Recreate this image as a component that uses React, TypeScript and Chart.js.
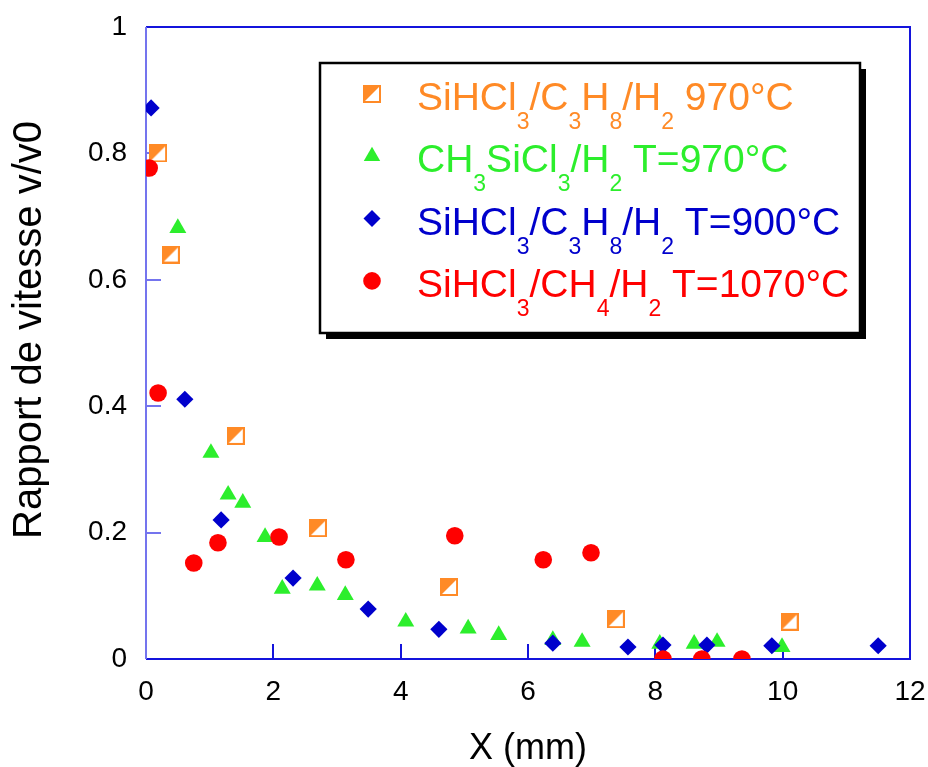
import React, { useEffect, useRef } from "react";
import { Chart, registerables } from "chart.js";

Chart.register(...registerables);

// ---- data ----
const xTickValues = [0, 2, 4, 6, 8, 10, 12];
const yTickLabels = ["0", "0.2", "0.4", "0.6", "0.8", "1"];

const orangeX = [0.19, 0.39, 1.41, 2.7, 4.76, 7.38, 10.11];
const orangeY = [0.8, 0.64, 0.353, 0.207, 0.114, 0.063, 0.059];

const greenX = [0.5, 1.02, 1.29, 1.52, 1.87, 2.14, 2.69, 3.13, 4.08, 5.06, 5.54, 6.39, 6.85, 8.07, 8.61, 8.97, 9.99];
const greenY = [0.682, 0.326, 0.26, 0.247, 0.193, 0.111, 0.116, 0.101, 0.059, 0.048, 0.038, 0.03, 0.027, 0.024, 0.024, 0.027, 0.019];

const blueX = [0.08, 0.61, 1.18, 2.31, 3.49, 4.6, 6.39, 7.57, 8.12, 8.81, 9.83, 11.5];
const blueY = [0.872, 0.411, 0.22, 0.128, 0.079, 0.047, 0.025, 0.019, 0.022, 0.022, 0.021, 0.021];

const redX = [0.05, 0.19, 0.75, 1.13, 2.09, 3.14, 4.85, 6.24, 6.99, 8.12, 8.73, 9.36];
const redY = [0.777, 0.421, 0.152, 0.184, 0.193, 0.157, 0.195, 0.157, 0.168, 0, 0, 0];

// legend rows: [text, isSubscript]
const legendOrange: [string, number][] = [["SiHCl", 0], ["3", 1], ["/C", 0], ["3", 1], ["H", 0], ["8", 1], ["/H", 0], ["2", 1], [" 970°C", 0]];
const legendGreen: [string, number][] = [["CH", 0], ["3", 1], ["SiCl", 0], ["3", 1], ["/H", 0], ["2", 1], [" T=970°C", 0]];
const legendBlue: [string, number][] = [["SiHCl", 0], ["3", 1], ["/C", 0], ["3", 1], ["H", 0], ["8", 1], ["/H", 0], ["2", 1], [" T=900°C", 0]];
const legendRed: [string, number][] = [["SiHCl", 0], ["3", 1], ["/CH", 0], ["4", 1], ["/H", 0], ["2", 1], [" T=1070°C", 0]];

const xTitle = "X (mm)";
const yTitle = "Rapport de vitesse v/v0";

// ---- styles ----
const ORANGE = "#ff8a26";
const GREEN = "#2cee2c";
const BLUE = "#0000cc";
const RED = "#ff0000";
const AXIS_LEFT = "#7474ee";
const AXIS_BLUE = "#1414dc";
const FONT = "'Liberation Sans', Arial, Helvetica, sans-serif";

function makeHalfSquare(size: number, color: string) {
  const c = document.createElement("canvas");
  c.width = size;
  c.height = size;
  const g = c.getContext("2d")!;
  g.fillStyle = "#fff";
  g.fillRect(0, 0, size, size);
  g.fillStyle = color;
  g.beginPath();
  g.moveTo(0, 0);
  g.lineTo(size, 0);
  g.lineTo(0, size);
  g.closePath();
  g.fill();
  g.strokeStyle = color;
  g.lineWidth = 2;
  g.strokeRect(1, 1, size - 2, size - 2);
  return c;
}

function toPoints(xs: number[], ys: number[]) {
  return xs.map((x, i) => ({ x, y: ys[i] }));
}

export default function App() {
  const ref = useRef<HTMLCanvasElement>(null);

  useEffect(() => {
    const canvas = ref.current!;
    const sq = makeHalfSquare(18, ORANGE);

    const framePlugin = {
      id: "frame",
      beforeDatasetsDraw(chart: any) {
        const { ctx, chartArea } = chart;
        const { left, right, top, bottom } = chartArea;
        const xs = chart.scales.x;
        const ys = chart.scales.y;
        ctx.save();
        ctx.lineWidth = 2;
        ctx.strokeStyle = AXIS_LEFT;
        ys.ticks.forEach((t: any) => {
          const py = Math.round(ys.getPixelForValue(t.value));
          ctx.beginPath();
          ctx.moveTo(left, py);
          ctx.lineTo(left + 15, py);
          ctx.stroke();
        });
        ctx.strokeStyle = AXIS_BLUE;
        xs.ticks.forEach((t: any) => {
          const px = Math.round(xs.getPixelForValue(t.value));
          ctx.beginPath();
          ctx.moveTo(px, bottom);
          ctx.lineTo(px, bottom - 15);
          ctx.stroke();
        });
        // frame
        ctx.strokeStyle = AXIS_BLUE;
        ctx.beginPath();
        ctx.moveTo(left, top);
        ctx.lineTo(right, top);
        ctx.lineTo(right, bottom);
        ctx.lineTo(left, bottom);
        ctx.stroke();
        ctx.strokeStyle = AXIS_LEFT;
        ctx.beginPath();
        ctx.moveTo(left, top);
        ctx.lineTo(left, bottom);
        ctx.stroke();
        // y-axis title
        ctx.save();
        ctx.fillStyle = "#000";
        ctx.font = `40px ${FONT}`;
        ctx.textAlign = "center";
        ctx.textBaseline = "middle";
        ctx.translate(30, 330);
        ctx.rotate(-Math.PI / 2);
        ctx.fillText(yTitle, 0, 0);
        ctx.restore();
        ctx.restore();
      },
    };

    const rows = [
      { segs: legendOrange, color: ORANGE, marker: "sq" },
      { segs: legendGreen, color: GREEN, marker: "tri" },
      { segs: legendBlue, color: BLUE, marker: "dia" },
      { segs: legendRed, color: RED, marker: "cir" },
    ];

    const legendPlugin = {
      id: "customLegend",
      afterDatasetsDraw(chart: any) {
        const ctx = chart.ctx as CanvasRenderingContext2D;
        ctx.save();
        const bx = 320, by = 63, bw = 540, bh = 270;
        ctx.fillStyle = "#000";
        ctx.fillRect(bx + 6, by + 6, bw, bh);
        ctx.fillStyle = "#fff";
        ctx.fillRect(bx, by, bw, bh);
        ctx.strokeStyle = "#000";
        ctx.lineWidth = 2.5;
        ctx.strokeRect(bx, by, bw, bh);

        rows.forEach((row, i) => {
          const base = 110 + i * 62.3;
          const my = base - 16;
          const mx = 372;
          ctx.fillStyle = row.color;
          ctx.strokeStyle = row.color;
          if (row.marker === "sq") {
            ctx.drawImage(sq, mx - 9, my - 9);
          } else if (row.marker === "tri") {
            const r = 9.5;
            ctx.beginPath();
            ctx.moveTo(mx, my - r);
            ctx.lineTo(mx + r * Math.sin((2 * Math.PI) / 3), my + r / 2);
            ctx.lineTo(mx - r * Math.sin((2 * Math.PI) / 3), my + r / 2);
            ctx.closePath();
            ctx.fill();
          } else if (row.marker === "dia") {
            const r = 8.5;
            ctx.beginPath();
            ctx.moveTo(mx - r, my);
            ctx.lineTo(mx, my - r);
            ctx.lineTo(mx + r, my);
            ctx.lineTo(mx, my + r);
            ctx.closePath();
            ctx.fill();
          } else {
            ctx.beginPath();
            ctx.arc(mx, my, 8.8, 0, Math.PI * 2);
            ctx.fill();
          }
          let x = 417;
          ctx.textBaseline = "alphabetic";
          ctx.textAlign = "left";
          row.segs.forEach(([t, sub]) => {
            ctx.font = sub ? `23px ${FONT}` : `39px ${FONT}`;
            ctx.fillText(t, x, sub ? base + 19 : base);
            x += ctx.measureText(t).width;
          });
        });
        ctx.restore();
      },
    };

    const chart = new Chart(canvas, {
      type: "scatter",
      data: {
        datasets: [
          {
            label: "red",
            data: toPoints(redX, redY),
            pointStyle: "circle",
            pointRadius: 8.8,
            backgroundColor: RED,
            borderColor: RED,
            borderWidth: 0,
            order: 0,
          },
          {
            label: "blue",
            data: toPoints(blueX, blueY),
            pointStyle: "rectRot",
            pointRadius: 8.6,
            backgroundColor: BLUE,
            borderColor: BLUE,
            borderWidth: 0,
            order: 1,
          },
          {
            label: "green",
            data: toPoints(greenX, greenY),
            pointStyle: "triangle",
            pointRadius: 9.8,
            backgroundColor: GREEN,
            borderColor: GREEN,
            borderWidth: 0,
            order: 2,
          },
          {
            label: "orange",
            data: toPoints(orangeX, orangeY),
            pointStyle: sq as any,
            pointRadius: 9,
            backgroundColor: ORANGE,
            borderColor: ORANGE,
            borderWidth: 0,
            order: 3,
          },
        ],
      },
      options: {
        responsive: false,
        animation: false,
        events: [],
        layout: { padding: { left: 0, top: 27, right: 18, bottom: 0 } },
        plugins: {
          legend: { display: false },
          tooltip: { enabled: false },
        },
        scales: {
          x: {
            type: "linear",
            min: 0,
            max: 12,
            afterFit: (s: any) => {
              s.height = 108;
              s.paddingLeft = 0;
              s.paddingRight = 0;
            },
            afterBuildTicks: (s: any) => {
              s.ticks = xTickValues.map((v) => ({ value: v }));
            },
            ticks: {
              stepSize: 2,
              color: "#000",
              padding: 16,
              font: { family: FONT, size: 28 },
              callback: (v: any) => String(v),
              maxRotation: 0,
            },
            grid: { display: false, drawTicks: false },
            border: { display: false },
            title: {
              display: true,
              text: xTitle,
              color: "#000",
              font: { family: FONT, size: 36, lineHeight: 1.0 },
              padding: { top: 0, bottom: 0 },
            },
          },
          y: {
            type: "linear",
            min: 0,
            max: 1,
            afterFit: (s: any) => {
              s.width = 146;
              s.paddingTop = 0;
              s.paddingBottom = 0;
            },
            ticks: {
              stepSize: 0.2,
              color: "#000",
              padding: 19,
              font: { family: FONT, size: 28 },
              callback: (_v: any, i: number) => yTickLabels[i],
            },
            grid: { display: false, drawTicks: false },
            border: { display: false },
            title: { display: false },
          },
        },
      },
      plugins: [framePlugin, legendPlugin],
    });

    return () => chart.destroy();
  }, []);

  return (
    <div style={{ position: "absolute", left: 0, top: 0, width: 928, height: 767, background: "#fff" }}>
      <canvas ref={ref} width={928} height={767} style={{ display: "block" }} />
    </div>
  );
}
